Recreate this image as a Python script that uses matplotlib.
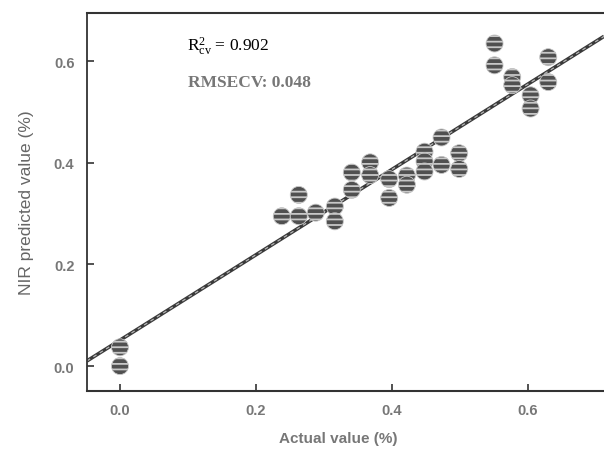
import matplotlib
matplotlib.use("Agg")
import matplotlib.pyplot as plt
import numpy as np

# Data
actual = [0.0, 0.0,
          0.238,
          0.263, 0.263,
          0.288,
          0.316, 0.316,
          0.341, 0.341,
          0.368, 0.368,
          0.396, 0.396,
          0.422, 0.422,
          0.448, 0.448, 0.448,
          0.473, 0.473,
          0.499, 0.499,
          0.551, 0.551,
          0.577, 0.577,
          0.604, 0.604,
          0.630, 0.630]
predicted = [0.037, 0.0,
             0.295,
             0.337, 0.295,
             0.302,
             0.314, 0.285,
             0.381, 0.347,
             0.401, 0.376,
             0.368, 0.331,
             0.375, 0.357,
             0.422, 0.403, 0.383,
             0.450, 0.396,
             0.419, 0.388,
             0.635, 0.592,
             0.569, 0.553,
             0.533, 0.507,
             0.608, 0.559]
fit_slope = 0.84
fit_intercept = 0.051
r2_text = r"R$^{2}_{\mathrm{cv}}$ = 0.902"
rmse_text = "RMSECV: 0.048"
xticks = [0.0, 0.2, 0.4, 0.6]
yticks = [0.0, 0.2, 0.4, 0.6]

plt.rcParams['mathtext.fontset'] = 'custom'
plt.rcParams['mathtext.rm'] = 'Liberation Serif'
plt.rcParams['mathtext.it'] = 'Liberation Serif:italic'
plt.rcParams['hatch.linewidth'] = 1.3
plt.rcParams['font.family'] = ['Liberation Sans', 'DejaVu Sans']

fig = plt.figure(figsize=(6.04, 4.52), dpi=100)
ax = fig.add_axes([87/604, 1-392/452, 1-87/604, (392-14)/452])

xmin, xmax = -0.0485, 0.712
ax.set_xlim(xmin, xmax)
ax.set_ylim(-0.049, 0.695)

# regression line
xl = np.array([xmin, xmax])
yl = fit_slope * xl + fit_intercept
ax.plot(xl, yl, color='#3a3a3a', lw=2.6, zorder=2, solid_capstyle='butt')
ax.plot(xl, yl, color='#b5b5b5', lw=0.9, ls=(0, (3, 3)), zorder=2)

ax.scatter(actual, predicted, s=150, facecolor='#505050', edgecolor='#c8c8c8',
           hatch='---', linewidths=0.6, zorder=3)

ax.text(0.098, 0.622, r2_text, fontsize=12.5, family='Liberation Serif', color='black')
ax.text(0.1, 0.552, rmse_text, fontsize=12.5, family='Liberation Serif',
        weight='bold', color='#777777')

ax.set_xticks(xticks)
ax.set_yticks(yticks)
ax.set_xticklabels([f"{v:.1f}" for v in xticks])
ax.set_yticklabels([f"{v:.1f}" for v in yticks])
ax.tick_params(direction='in', length=5, width=1.2, colors='#333333',
               labelcolor='#777777', labelsize=10.5, pad=9)
for lab in ax.get_xticklabels() + ax.get_yticklabels():
    lab.set_fontweight('bold')

ax.spines['right'].set_visible(False)
for s in ['top', 'bottom']:
    ax.spines[s].set_color('#333333')
    ax.spines[s].set_linewidth(1.5)
ax.spines['left'].set_color('#333333')
ax.spines['left'].set_linewidth(1.3)
ax.spines['left'].set_linestyle((0, (2, 1)))

ax.set_xlabel("Actual value (%)", fontsize=11, color='#777777', weight='bold')
ax.xaxis.set_label_coords((338-87)/(604-87), -(432-392)/378)
ax.set_ylabel("NIR predicted value (%)", fontsize=12.5, color='#666666', labelpad=14)

fig.savefig("out.png", dpi=100)
